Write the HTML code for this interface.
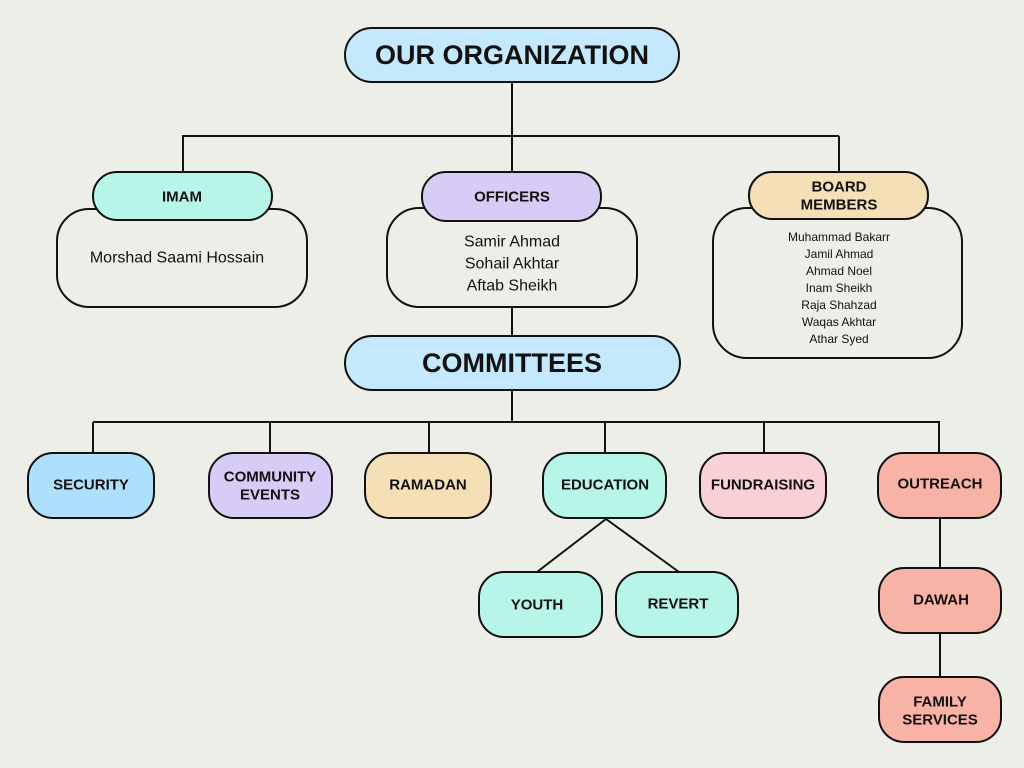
<!DOCTYPE html>
<html><head><meta charset="utf-8"><style>
html,body{margin:0;padding:0;background:#eeeee9;}
svg{display:block;}
text{font-family:"Liberation Sans",Arial,sans-serif;fill:#111;}
.b{font-weight:bold;}
</style></head><body>
<svg width="1024" height="768" viewBox="0 0 1024 768" xmlns="http://www.w3.org/2000/svg">
<rect width="1024" height="768" fill="#eeeee9"/>
<g stroke="#111" stroke-width="2" fill="none">
<line x1="512" y1="82" x2="512" y2="173"/>
<line x1="182" y1="136" x2="839" y2="136"/>
<line x1="183" y1="136" x2="183" y2="173"/>
<line x1="839" y1="136" x2="839" y2="173"/>
<line x1="512" y1="307" x2="512" y2="337"/>
<line x1="512" y1="390" x2="512" y2="422"/>
<line x1="93" y1="422" x2="940" y2="422"/>
<line x1="93" y1="422" x2="93" y2="453"/>
<line x1="270" y1="422" x2="270" y2="453"/>
<line x1="429" y1="422" x2="429" y2="453"/>
<line x1="605" y1="422" x2="605" y2="453"/>
<line x1="764" y1="422" x2="764" y2="453"/>
<line x1="939" y1="422" x2="939" y2="453"/>
<line x1="606" y1="519" x2="537" y2="572"/>
<line x1="606" y1="519" x2="679" y2="572"/>
<line x1="940" y1="518" x2="940" y2="568"/>
<line x1="940" y1="633" x2="940" y2="677"/>
</g>
<g stroke="#111" stroke-width="2">
<rect x="345" y="28" width="334" height="54" rx="27" fill="#c4e8fc"/>
<rect x="57" y="209" width="250" height="98" rx="32" fill="#eeeee9"/>
<rect x="93" y="172" width="179" height="48" rx="24" fill="#b8f5e9"/>
<rect x="387" y="208" width="250" height="99" rx="32" fill="#eeeee9"/>
<rect x="422" y="172" width="179" height="49" rx="24" fill="#d6ccf5"/>
<rect x="713" y="208" width="249" height="150" rx="34" fill="#eeeee9"/>
<rect x="749" y="172" width="179" height="47" rx="23" fill="#f4dfb6"/>
<rect x="345" y="336" width="335" height="54" rx="27" fill="#c4e8fc"/>
<rect x="28" y="453" width="126" height="65" rx="25" fill="#ade0fc"/>
<rect x="209" y="453" width="123" height="65" rx="25" fill="#d6ccf5"/>
<rect x="365" y="453" width="126" height="65" rx="25" fill="#f4dfb6"/>
<rect x="543" y="453" width="123" height="65" rx="25" fill="#b8f5e9"/>
<rect x="700" y="453" width="126" height="65" rx="25" fill="#f8d0d5"/>
<rect x="878" y="453" width="123" height="65" rx="25" fill="#f8b3a6"/>
<rect x="479" y="572" width="123" height="65" rx="25" fill="#b8f5e9"/>
<rect x="616" y="572" width="122" height="65" rx="25" fill="#b8f5e9"/>
<rect x="879" y="568" width="122" height="65" rx="25" fill="#f8b3a6"/>
<rect x="879" y="677" width="122" height="65" rx="25" fill="#f8b3a6"/>
</g>
<g text-anchor="middle" dominant-baseline="central">
<text x="512" y="55" class="b" font-size="27">OUR ORGANIZATION</text>
<text x="512" y="363" class="b" font-size="27">COMMITTEES</text>
<text x="182" y="197" class="b" font-size="15">IMAM</text>
<text x="512" y="197" class="b" font-size="15">OFFICERS</text>
<text x="839" y="187" class="b" font-size="15">BOARD</text>
<text x="839" y="205" class="b" font-size="15">MEMBERS</text>
<text x="177" y="258" font-size="16">Morshad Saami Hossain</text>
<text x="512" y="242" font-size="16">Samir Ahmad</text>
<text x="512" y="264" font-size="16">Sohail Akhtar</text>
<text x="512" y="286" font-size="16">Aftab Sheikh</text>
<text x="839" y="237" font-size="12">Muhammad Bakarr</text>
<text x="839" y="254" font-size="12">Jamil Ahmad</text>
<text x="839" y="271" font-size="12">Ahmad Noel</text>
<text x="839" y="288" font-size="12">Inam Sheikh</text>
<text x="839" y="305" font-size="12">Raja Shahzad</text>
<text x="839" y="322" font-size="12">Waqas Akhtar</text>
<text x="839" y="339" font-size="12">Athar Syed</text>
<text x="91" y="485" class="b" font-size="15">SECURITY</text>
<text x="270" y="477" class="b" font-size="15">COMMUNITY</text>
<text x="270" y="495" class="b" font-size="15">EVENTS</text>
<text x="428" y="485" class="b" font-size="15">RAMADAN</text>
<text x="605" y="485" class="b" font-size="15">EDUCATION</text>
<text x="763" y="485" class="b" font-size="15">FUNDRAISING</text>
<text x="940" y="484" class="b" font-size="15">OUTREACH</text>
<text x="537" y="605" class="b" font-size="15">YOUTH</text>
<text x="678" y="604" class="b" font-size="15">REVERT</text>
<text x="941" y="600" class="b" font-size="15">DAWAH</text>
<text x="940" y="702" class="b" font-size="15">FAMILY</text>
<text x="940" y="720" class="b" font-size="15">SERVICES</text>
</g>
</svg>
</body></html>
